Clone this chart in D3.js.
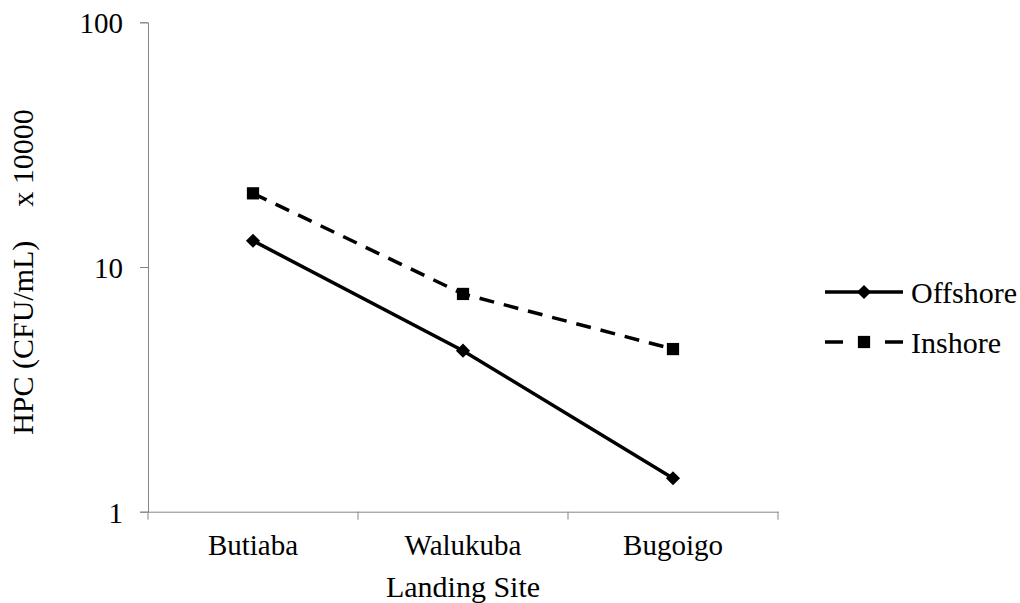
<!DOCTYPE html>
<html>
<head>
<meta charset="utf-8">
<script src="https://cdn.jsdelivr.net/npm/d3@7"></script>
<style>
  body { margin: 0; background: #fff; }
</style>
</head>
<body>
<div id="chart"></div>
<script>
/* HPC counts by landing site, log scale */

const sites = ["Butiaba", "Walukuba", "Bugoigo"];
const offshore = [12.8, 4.55, 1.37];
const inshore = [20.0, 7.76, 4.62];
const yTicks = [1, 10, 100];
const seriesNames = ["Offshore", "Inshore"];

const width = 1020,
    height = 603,
    margin = ({top: 22.3, right: 242, bottom: 91.3, left: 148});

const serif = "'Liberation Serif', 'Times New Roman'";
const tickSize = "29px";
const titleSize = "30px";
const axisColor = "#868686";

let svg = d3.select("#chart")
    .append("svg")
    .attr("width", width)
    .attr("height", height);

const x = d3.scaleBand()
    .domain(sites)
    .range([margin.left, width - margin.right])
    .padding(0);

const y = d3.scaleLog()
    .domain([1, 100])
    .range([height - margin.bottom, margin.top]);

/* y axis */
let yAxis = svg.append("g")
    .attr("transform", `translate(${margin.left},0)`)
    .call(d3.axisLeft(y).tickValues(yTicks).tickFormat(d3.format("d")).tickSize(8).tickPadding(17));
yAxis.select(".domain").attr("stroke", axisColor);
yAxis.selectAll(".tick line").attr("stroke", axisColor);
yAxis.selectAll(".tick text")
    .style("font-size", tickSize)
    .style("font-family", serif)
    .attr("fill", "#000")
    .attr("dy", "0.36em");

/* x axis: labels at band centres, ticks at band edges */
let xAxis = svg.append("g")
    .attr("transform", `translate(0,${y(1)})`)
    .call(d3.axisBottom(x).tickSize(0).tickPadding(23));
xAxis.select(".domain").attr("stroke", axisColor);
xAxis.selectAll(".tick text")
    .style("font-size", tickSize)
    .style("font-family", serif)
    .attr("fill", "#000")
    .attr("dy", "0.71em");

const edges = sites.map(d => x(d)).concat([x.range()[1]]);
svg.append("g")
    .selectAll("line")
    .data(edges)
    .join("line")
    .attr("x1", d => d)
    .attr("x2", d => d)
    .attr("y1", y(1))
    .attr("y2", y(1) + 8)
    .attr("stroke", axisColor);

/* axis titles */
svg.append("text")
    .attr("x", x(sites[1]) + x.bandwidth() / 2)
    .attr("y", 597)
    .attr("text-anchor", "middle")
    .style("font-size", titleSize)
    .style("font-family", serif)
    .text("Landing Site");

let yTitle = svg.append("text")
    .attr("transform", "translate(33,272) rotate(-90)")
    .attr("text-anchor", "middle")
    .style("font-size", titleSize)
    .style("font-family", serif);
yTitle.append("tspan").text("HPC (CFU/mL)");
yTitle.append("tspan").attr("dx", 34).text("x 10000");

/* lines */
const cx = (d, i) => x(sites[i]) + x.bandwidth() / 2;
const line = d3.line()
    .x(cx)
    .y(d => y(d));

svg.append("path")
    .datum(offshore)
    .attr("fill", "none")
    .attr("stroke", "#000")
    .attr("stroke-width", 3.5)
    .attr("d", line);

svg.append("path")
    .datum(inshore)
    .attr("fill", "none")
    .attr("stroke", "#000")
    .attr("stroke-width", 3.5)
    .attr("stroke-dasharray", "15,10")
    .attr("d", line);

/* markers */
const diamond = d3.symbol().type(d3.symbolSquare).size(100);
const square = d3.symbol().type(d3.symbolSquare).size(150);

svg.append("g")
    .selectAll("path")
    .data(offshore)
    .join("path")
    .attr("d", diamond)
    .attr("transform", (d, i) => `translate(${cx(d, i)},${y(d)}) rotate(45)`)
    .attr("fill", "#000");

svg.append("g")
    .selectAll("path")
    .data(inshore)
    .join("path")
    .attr("d", square)
    .attr("transform", (d, i) => `translate(${cx(d, i)},${y(d)})`)
    .attr("fill", "#000");

/* legend */
const legendY = [292, 342];
let legend = svg.append("g");

legend.append("line")
    .attr("x1", 825).attr("x2", 903)
    .attr("y1", legendY[0]).attr("y2", legendY[0])
    .attr("stroke", "#000").attr("stroke-width", 3.5);
legend.append("path")
    .attr("d", diamond)
    .attr("transform", `translate(864,${legendY[0]}) rotate(45)`);

legend.append("line")
    .attr("x1", 825).attr("x2", 903)
    .attr("y1", legendY[1]).attr("y2", legendY[1])
    .attr("stroke", "#000").attr("stroke-width", 3.5)
    .attr("stroke-dasharray", "18,42");
legend.append("path")
    .attr("d", square)
    .attr("transform", `translate(864,${legendY[1]})`);

legend.selectAll("text")
    .data(seriesNames)
    .join("text")
    .attr("x", 911)
    .attr("y", (d, i) => legendY[i])
    .attr("dy", "0.35em")
    .style("font-size", titleSize)
    .style("font-family", serif)
    .text(d => d);
</script>
</body>
</html>
